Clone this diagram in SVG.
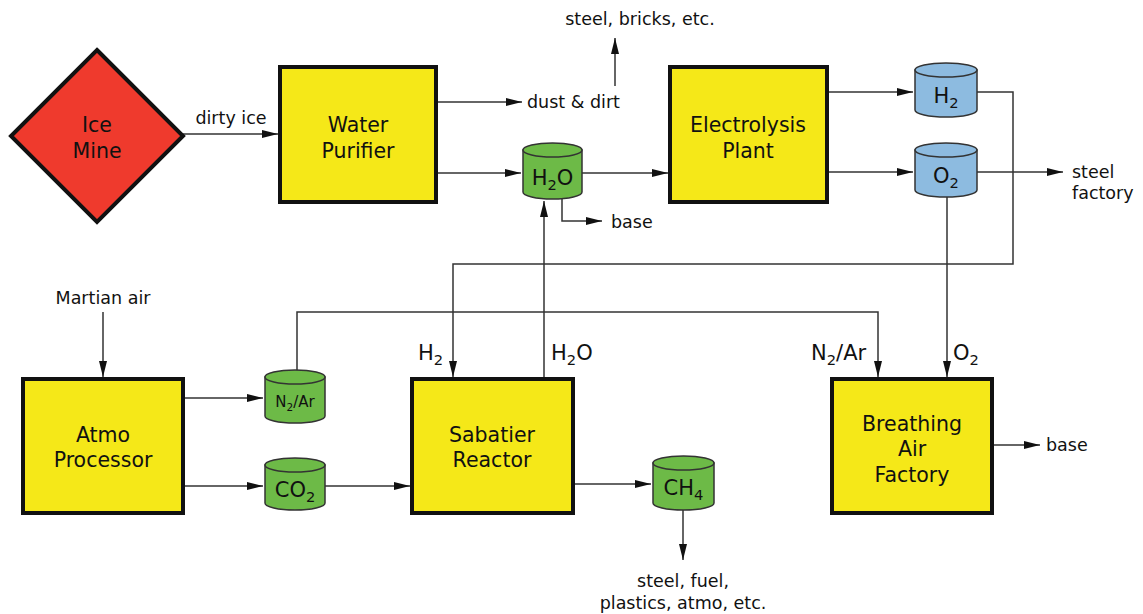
<svg xmlns="http://www.w3.org/2000/svg" width="1143" height="614" viewBox="0 0 1143 614">
<style>
text{font-family:"DejaVu Sans","Liberation Sans",sans-serif;fill:#111}
.box{fill:#f5e818;stroke:#111;stroke-width:4}
.big{font-size:20.5px;text-anchor:middle}
.lbl{font-size:17.5px}
.cyl{stroke:#333;stroke-width:1.5}
.g{fill:#6dba47}
.b{fill:#8dbbe0}
.c{fill:none;stroke:#333;stroke-width:1.5}
.sub{font-size:70%}
</style>
<defs>
<marker id="ah" viewBox="0 0 16 8" refX="16" refY="4" markerWidth="16" markerHeight="8" markerUnits="userSpaceOnUse" orient="auto">
<path d="M0,0 L16,4 L0,8 Z" fill="#111"/>
</marker>
</defs>
<rect width="1143" height="614" fill="#fff"/>

<g id="connectors">
<path class="c" d="M183,134 H278" marker-end="url(#ah)"/>
<path class="c" d="M436,102 H522" marker-end="url(#ah)"/>
<path class="c" d="M615,86 V38" marker-end="url(#ah)"/>
<path class="c" d="M436,173 H521" marker-end="url(#ah)"/>
<path class="c" d="M582,173 H668" marker-end="url(#ah)"/>
<path class="c" d="M562,199 V221 H602" marker-end="url(#ah)"/>
<path class="c" d="M827,92 H913" marker-end="url(#ah)"/>
<path class="c" d="M827,172 H913" marker-end="url(#ah)"/>
<path class="c" d="M977,172 H1063" marker-end="url(#ah)"/>
<path class="c" d="M977,92 H1013 V264 H453 V377" marker-end="url(#ah)"/>
<path class="c" d="M947,197 V377" marker-end="url(#ah)"/>
<path class="c" d="M544,379 V201" marker-end="url(#ah)"/>
<path class="c" d="M103,312 V377" marker-end="url(#ah)"/>
<path class="c" d="M183,398 H263" marker-end="url(#ah)"/>
<path class="c" d="M183,486 H263" marker-end="url(#ah)"/>
<path class="c" d="M325,486 H410" marker-end="url(#ah)"/>
<path class="c" d="M297,370 V312 H878 V377" marker-end="url(#ah)"/>
<path class="c" d="M573,484 H651" marker-end="url(#ah)"/>
<path class="c" d="M683,510 V560" marker-end="url(#ah)"/>
<path class="c" d="M992,445 H1040" marker-end="url(#ah)"/>
<text class="lbl" x="231" y="124" text-anchor="middle">dirty ice</text>
<text class="lbl" x="527" y="108">dust &amp; dirt</text>
<text class="lbl" x="640" y="25" text-anchor="middle">steel, bricks, etc.</text>
<text class="lbl" x="611" y="228">base</text>
<text class="lbl" x="1072" y="178">steel</text>
<text class="lbl" x="1072" y="199">factory</text>
<text class="lbl" x="103" y="304" text-anchor="middle">Martian air</text>
<text class="lbl" x="1046" y="451">base</text>
<text class="lbl" x="683" y="587" text-anchor="middle">steel, fuel,</text>
<text class="lbl" x="683" y="609" text-anchor="middle">plastics, atmo, etc.</text>
<text x="418" y="360" font-size="21">H<tspan class="sub" dy="5">2</tspan></text>
<text x="551" y="360" font-size="21">H<tspan class="sub" dy="5">2</tspan><tspan dy="-5">O</tspan></text>
<text x="811" y="360" font-size="21">N<tspan class="sub" dy="5">2</tspan><tspan dy="-5">/Ar</tspan></text>
<text x="953" y="360" font-size="21">O<tspan class="sub" dy="5">2</tspan></text>
</g>

<g id="ice-mine">
<path d="M97,50 L183,136 L97,222 L11,136 Z" fill="#ef3a2d" stroke="#111" stroke-width="4" stroke-linejoin="miter"/>
<text class="big" x="97" y="132" font-size="21">Ice</text>
<text class="big" x="97" y="158" font-size="21">Mine</text>
</g>

<g id="water-purifier">
<rect class="box" x="280" y="67" width="156" height="135"/>
<text class="big" x="358" y="132">Water</text>
<text class="big" x="358" y="158">Purifier</text>
</g>

<g id="electrolysis-plant">
<rect class="box" x="670" y="67" width="157" height="135"/>
<text class="big" x="748" y="132">Electrolysis</text>
<text class="big" x="748" y="158">Plant</text>
</g>

<g id="tank-h2o">
<path class="cyl g" d="M523,150 V192 A29.5,7 0 0 0 582,192 V150 Z"/>
<ellipse class="cyl g" cx="552.5" cy="150" rx="29.5" ry="7"/>
<text x="552.5" y="185" font-size="21" text-anchor="middle">H<tspan class="sub" dy="5">2</tspan><tspan dy="-5">O</tspan></text>
</g>

<g id="tank-h2">
<path class="cyl b" d="M915,70 V110 A31,7 0 0 0 977,110 V70 Z"/>
<ellipse class="cyl b" cx="946" cy="70" rx="31" ry="7"/>
<text x="946" y="103" font-size="21" text-anchor="middle">H<tspan class="sub" dy="5">2</tspan></text>
</g>

<g id="tank-o2">
<path class="cyl b" d="M915,150 V190 A31,7 0 0 0 977,190 V150 Z"/>
<ellipse class="cyl b" cx="946" cy="150" rx="31" ry="7"/>
<text x="946" y="183" font-size="21" text-anchor="middle">O<tspan class="sub" dy="5">2</tspan></text>
</g>

<g id="atmo-processor">
<rect class="box" x="23" y="379" width="160" height="134"/>
<text class="big" x="103" y="442">Atmo</text>
<text class="big" x="103" y="467">Processor</text>
</g>

<g id="tank-n2ar">
<path class="cyl g" d="M265,377 V416 A30,7 0 0 0 325,416 V377 Z"/>
<ellipse class="cyl g" cx="295" cy="377" rx="30" ry="7"/>
<text x="295" y="407" font-size="15" text-anchor="middle">N<tspan class="sub" dy="4">2</tspan><tspan dy="-4">/Ar</tspan></text>
</g>

<g id="tank-co2">
<path class="cyl g" d="M265,465 V503 A30,7 0 0 0 325,503 V465 Z"/>
<ellipse class="cyl g" cx="295" cy="465" rx="30" ry="7"/>
<text x="295" y="497" font-size="21" text-anchor="middle">CO<tspan class="sub" dy="5">2</tspan></text>
</g>

<g id="sabatier-reactor">
<rect class="box" x="412" y="379" width="161" height="134"/>
<text class="big" x="492" y="442">Sabatier</text>
<text class="big" x="492" y="467">Reactor</text>
</g>

<g id="tank-ch4">
<path class="cyl g" d="M653,463 V503 A30.5,7 0 0 0 714,503 V463 Z"/>
<ellipse class="cyl g" cx="683.5" cy="463" rx="30.5" ry="7"/>
<text x="683.5" y="495" font-size="21" text-anchor="middle">CH<tspan class="sub" dy="5">4</tspan></text>
</g>

<g id="breathing-air-factory">
<rect class="box" x="832" y="379" width="160" height="134"/>
<text class="big" x="912" y="431">Breathing</text>
<text class="big" x="912" y="456">Air</text>
<text class="big" x="912" y="482">Factory</text>
</g>
</svg>
